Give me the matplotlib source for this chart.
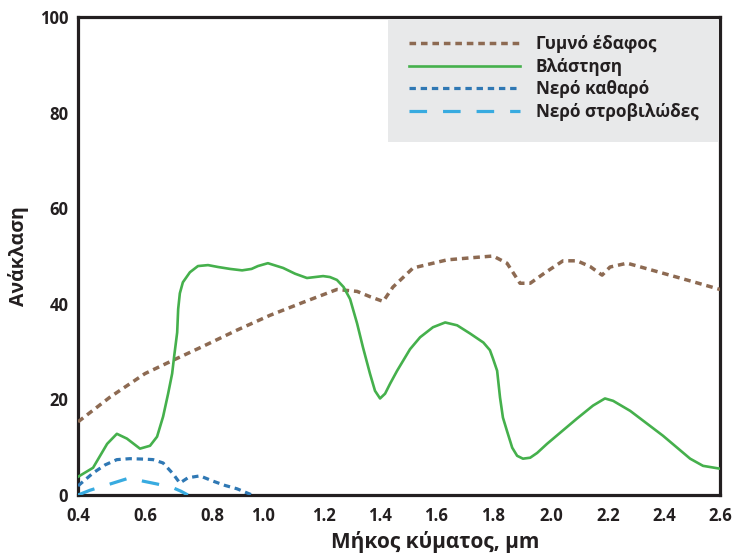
import numpy as np
import matplotlib
matplotlib.use("Agg")
import matplotlib.pyplot as plt
from matplotlib.patches import Rectangle

plt.rcParams['font.family'] = ['Open Sans', 'DejaVu Sans']
plt.rcParams['font.weight'] = 'bold'

# wavelength (um) / reflectance (%)
soil_wl = [0.400, 0.496, 0.600, 0.684, 0.779, 0.898, 1.023, 1.131, 1.246, 1.318,
           1.364, 1.411, 1.446, 1.518, 1.639, 1.737, 1.800, 1.848, 1.893, 1.928,
           1.979, 2.042, 2.091, 2.137, 2.179, 2.207, 2.268, 2.396, 2.493, 2.600]
soil_r = [15.3, 20.5, 25.4, 28.2, 31.3, 34.5, 37.6, 40.3, 43.0, 42.6,
          41.5, 40.5, 43.5, 47.5, 49.2, 49.7, 50.0, 48.5, 44.3, 44.3,
          46.5, 49.0, 49.0, 47.8, 46.0, 47.7, 48.5, 46.4, 44.8, 43.0]

veg_wl = [0.400, 0.445, 0.487, 0.516, 0.546, 0.585, 0.615, 0.636, 0.654, 0.669,
          0.681, 0.687, 0.696, 0.699, 0.704, 0.713, 0.734, 0.758, 0.788, 0.824,
          0.871, 0.918, 0.955, 0.980, 1.016, 1.066, 1.105, 1.144, 1.197, 1.221,
          1.246, 1.270, 1.293, 1.318, 1.339, 1.364, 1.382, 1.400, 1.418, 1.436,
          1.461, 1.507, 1.543, 1.589, 1.632, 1.674, 1.719, 1.766, 1.789, 1.800,
          1.814, 1.824, 1.834, 1.848, 1.866, 1.883, 1.903, 1.928, 1.952, 1.986,
          2.091, 2.147, 2.189, 2.218, 2.279, 2.396, 2.493, 2.539, 2.600]
veg_r = [3.8, 5.7, 10.7, 12.8, 11.8, 9.7, 10.3, 12.2, 16.4, 21.2,
         25.4, 29.0, 34.0, 38.9, 42.2, 44.5, 46.6, 47.9, 48.1, 47.7,
         47.3, 47.0, 47.3, 47.9, 48.5, 47.5, 46.3, 45.4, 45.8, 45.6,
         45.0, 43.5, 41.0, 35.9, 30.9, 25.4, 21.8, 20.2, 21.2, 23.3,
         26.0, 30.5, 33.0, 35.1, 36.1, 35.5, 33.8, 31.9, 30.3, 28.5,
         26.0, 20.4, 16.2, 13.4, 9.9, 8.2, 7.6, 7.8, 8.8, 10.7,
         16.0, 18.7, 20.2, 19.7, 17.6, 12.4, 7.6, 6.1, 5.5]

clear_wl = [0.400, 0.445, 0.481, 0.516, 0.555, 0.600, 0.624, 0.654, 0.684, 0.704,
            0.728, 0.764, 0.804, 0.851, 0.898, 0.957]
clear_r = [1.9, 4.6, 6.3, 7.4, 7.6, 7.5, 7.4, 6.7, 4.4, 2.5,
           3.6, 4.0, 2.9, 2.0, 1.3, 0.0]

turbid_wl = [0.400, 0.436, 0.496, 0.555, 0.594, 0.636, 0.684, 0.707, 0.728]
turbid_r = [0.0, 1.0, 2.3, 3.6, 2.9, 2.3, 1.5, 0.8, 0.0]

labels = ['Γυμνό έδαφος', 'Βλάστηση', 'Νερό καθαρό', 'Νερό στροβιλώδες']
xticks = [0.4, 0.6, 0.8, 1.0, 1.2, 1.4, 1.6, 1.8, 2.0, 2.2, 2.4, 2.6]
yticks = [0, 20, 40, 60, 80, 100]

# the original axis is not evenly spaced: where each tick sits along it
tick_pos = [78, 145, 212, 263, 324, 380, 436, 493, 551, 608, 664, 720]

def fwd(x):
    return np.interp(x, xticks, tick_pos, left=np.nan, right=np.nan)

def inv(p):
    return np.interp(p, tick_pos, xticks)

ink = '#231f20'
fig = plt.figure(figsize=(7.33, 5.59), dpi=100)
ax = fig.add_axes([0.1064, 0.1145, 0.876, 0.855])
ax.set_xscale('function', functions=(fwd, inv))

ax.plot(soil_wl, soil_r, color='#8d6a52', lw=2.5, linestyle=(0, (1.9, 1.4)),
        label=labels[0], zorder=3)
ax.plot(veg_wl, veg_r, color='#45b04c', lw=1.9, label=labels[1], zorder=4)
ax.plot(clear_wl, clear_r, color='#2f78b4', lw=2.3, linestyle=(0, (2.0, 1.5)),
        label=labels[2], zorder=3)
ax.plot(turbid_wl, turbid_r, color='#38abe0', lw=2.3, linestyle=(0, (5.5, 5.0)),
        label=labels[3], zorder=3)

ax.set_xlim(0.4, 2.6)
ax.set_ylim(0, 100)
ax.set_xticks(xticks)
ax.set_xticklabels([f'{t:.1f}' for t in xticks])
ax.set_yticks(yticks)
ax.tick_params(length=0, labelsize=12, colors=ink)
ax.tick_params(axis='x', pad=9)
ax.tick_params(axis='y', pad=7)
for s in ax.spines.values():
    s.set_linewidth(2.3)
    s.set_color(ink)

ax.set_ylabel('Ανάκλαση', fontsize=14, fontweight='bold', color=ink, labelpad=8)
ax.set_xlabel('Μήκος κύματος, μm', fontsize=15, fontweight='bold', color=ink)
ax.xaxis.set_label_coords(0.556, -0.075)

# grey legend panel in the upper right corner
ax.add_patch(Rectangle((0.483, 0.7385), 0.514, 0.2573, transform=ax.transAxes,
                       facecolor='#e8e9ea', edgecolor='none', zorder=4.5))
leg = ax.legend(loc='upper left', bbox_to_anchor=(0.516, 0.962), borderaxespad=0,
                borderpad=0, fontsize=12.3, handlelength=6.45, handletextpad=0.95,
                labelspacing=0.26, frameon=False)
leg.set_zorder(5)
for t in leg.get_texts():
    t.set_color(ink)

fig.savefig('out.png', dpi=100)
